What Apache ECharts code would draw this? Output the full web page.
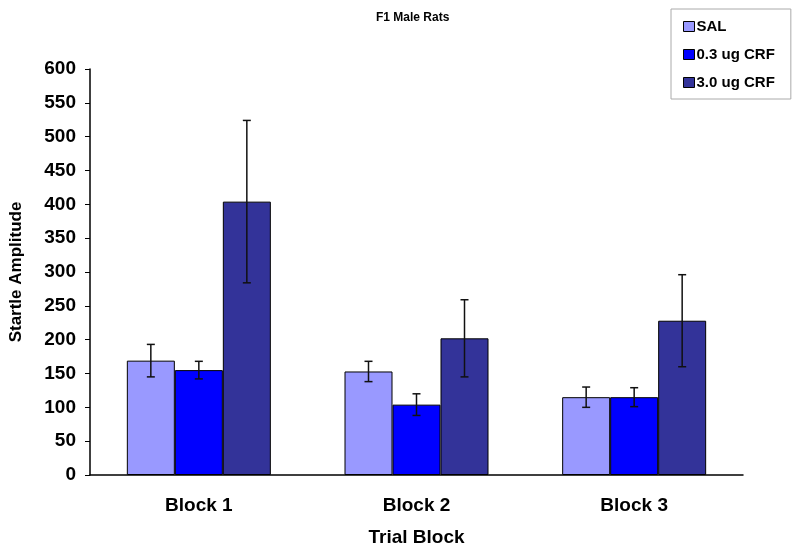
<!DOCTYPE html>
<html><head><meta charset="utf-8">
<script src="https://cdn.jsdelivr.net/npm/echarts@6/dist/echarts.min.js"></script>
<style>html,body{margin:0;padding:0;background:#fff}#c{width:800px;height:550px}</style>
</head><body><div id="c"></div>
<script>
const categories = ['Block 1', 'Block 2', 'Block 3'];
const seriesNames = ['SAL', '0.3 ug CRF', '3.0 ug CRF'];
const salValues = [169, 153, 115];
const crf03Values = [155, 104, 115];
const crf30Values = [404, 202, 228];
const salErr = [24, 15, 15];
const crf03Err = [13, 16, 14];
const crf30Err = [120, 57, 68];
const yTicks = [0, 50, 100, 150, 200, 250, 300, 350, 400, 450, 500, 550, 600];

const colors = ['#9999ff', '#0000ff', '#333399'];
const values = [salValues, crf03Values, crf30Values];
const errs = [salErr, crf03Err, crf30Err];
const font = 'Arial, "Liberation Sans", sans-serif';
const chart = echarts.init(document.getElementById('c'), null, {renderer: 'canvas'});

const barSeries = seriesNames.map((n, i) => ({
  name: n, type: 'bar', data: values[i], barWidth: 48, barGap: '0%',
  itemStyle: {color: colors[i], borderColor: '#000', borderWidth: 1},
  z: 2
}));

const errSeries = seriesNames.map((n, i) => ({
  type: 'custom', name: n + ' err',
  data: categories.map((c, j) => [j, values[i][j] - errs[i][j], values[i][j] + errs[i][j]]),
  encode: {x: 0, y: [1, 2]},
  z: 5,
  renderItem: function (params, api) {
    const off = (i - 1) * 48;
    const lo = api.coord([api.value(0), api.value(1)]);
    const hi = api.coord([api.value(0), api.value(2)]);
    const x = lo[0] + off;
    const cw = 4;
    const st = {stroke: '#111', lineWidth: 1.5};
    return {type: 'group', children: [
      {type: 'line', shape: {x1: x, y1: lo[1], x2: x, y2: hi[1]}, style: st},
      {type: 'line', shape: {x1: x - cw, y1: lo[1], x2: x + cw, y2: lo[1]}, style: st},
      {type: 'line', shape: {x1: x - cw, y1: hi[1], x2: x + cw, y2: hi[1]}, style: st}
    ]};
  }
}));

chart.setOption({
  animation: false,
  backgroundColor: '#fff',
  title: {text: 'F1 Male Rats', left: 371, top: 7,
    textStyle: {fontFamily: font, fontWeight: 'bold', fontSize: 12, color: '#000'}},
  legend: {
    data: seriesNames, orient: 'vertical', left: 671, top: 9,
    padding: [10, 16, 9, 12], itemGap: 13,
    borderColor: '#aaa', borderWidth: 1,
    itemWidth: 11, itemHeight: 10, icon: 'rect',
    itemStyle: {borderColor: '#000', borderWidth: 1},
    textStyle: {fontFamily: font, fontWeight: 'bold', fontSize: 15, color: '#000', padding: [0, 0, 0, -3]}
  },
  grid: {left: 90, right: 57, top: 69, bottom: 75, containLabel: false, outerBoundsMode: 'none'},
  xAxis: {
    type: 'category', data: categories,
    name: 'Trial Block', nameLocation: 'middle', nameGap: 53,
    nameTextStyle: {fontFamily: font, fontWeight: 'bold', fontSize: 19, color: '#000'},
    axisLine: {lineStyle: {color: '#000', width: 1.5}},
    axisTick: {show: false},
    axisLabel: {fontFamily: font, fontWeight: 'bold', fontSize: 19, color: '#000', margin: 21}
  },
  yAxis: {
    type: 'value', min: 0, max: 600, interval: 50,
    name: 'Startle Amplitude', nameLocation: 'middle', nameGap: 65, nameRotate: 90,
    nameTextStyle: {fontFamily: font, fontWeight: 'bold', fontSize: 17, color: '#000'},
    axisLine: {show: true, lineStyle: {color: '#000', width: 1.5}},
    axisTick: {show: true, length: 5, lineStyle: {color: '#000'}},
    splitLine: {show: false},
    axisLabel: {fontFamily: font, fontWeight: 'bold', fontSize: 19, color: '#000', margin: 14,
      formatter: v => yTicks.includes(v) ? String(v) : ''}
  },
  series: barSeries.concat(errSeries)
});
</script></body></html>
